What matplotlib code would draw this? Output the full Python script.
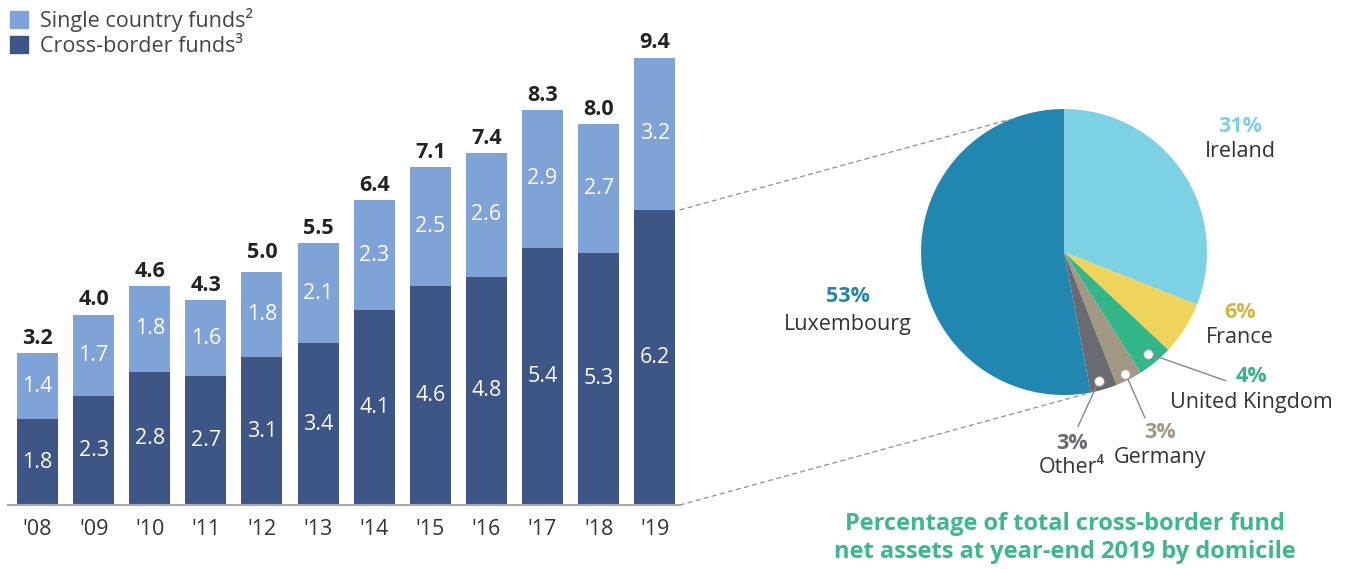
import numpy as np
import matplotlib
matplotlib.use("Agg")
import matplotlib.pyplot as plt
from matplotlib.patches import ConnectionPatch, Patch

plt.rcParams['font.family'] = ['Open Sans', 'DejaVu Sans']

# bar chart data (trillions)
years = ["'08", "'09", "'10", "'11", "'12", "'13", "'14", "'15", "'16", "'17", "'18", "'19"]
cross_border = [1.8, 2.3, 2.8, 2.7, 3.1, 3.4, 4.1, 4.6, 4.8, 5.4, 5.3, 6.2]
single_country = [1.4, 1.7, 1.8, 1.6, 1.8, 2.1, 2.3, 2.5, 2.6, 2.9, 2.7, 3.2]
totals = [3.2, 4.0, 4.6, 4.3, 5.0, 5.5, 6.4, 7.1, 7.4, 8.3, 8.0, 9.4]

# pie data (2019 domicile shares, clockwise from 12 o'clock)
domiciles = ["Ireland", "France", "United Kingdom", "Germany", "Other\u2074", "Luxembourg"]
shares = [31, 6, 4, 3, 3, 53]

light = '#7fa3d7'
dark = '#3d5686'
pie_colors = ['#7dd1e5', '#efd35b', '#33b68a', '#a39884', '#6a6b70', '#2287b0']
pct_colors = ['#7dd1e5', '#d4b53a', '#33b68a', '#a39884', '#6a6b70', '#2287b0']
text_col = '#333333'
fs = 15.5

fig = plt.figure(figsize=(13.48, 5.69), dpi=100)

# ---- stacked bars
ax = fig.add_axes([8/1348, 64/569, 672/1348, 476/569])
x = np.arange(len(years))
w = 0.73
ax.bar(x, cross_border, w, color=dark)
ax.bar(x, single_country, w, bottom=cross_border, color=light)
ax.set_xlim(-0.526, 11.45)
ax.set_ylim(0, 10)

for i in range(len(years)):
    ax.text(x[i], cross_border[i] / 2, f"{cross_border[i]:.1f}", ha='center', va='center',
            color='white', fontsize=fs)
    ax.text(x[i], cross_border[i] + single_country[i] / 2, f"{single_country[i]:.1f}",
            ha='center', va='center', color='white', fontsize=fs)
    ax.annotate(f"{totals[i]:.1f}", (x[i], totals[i]), xytext=(0, 3), textcoords='offset points',
                ha='center', va='bottom', fontsize=fs, fontweight='bold', color='#222222')

for s in ['top', 'right', 'left']:
    ax.spines[s].set_visible(False)
ax.spines['bottom'].set_color('#aaaaaa')
ax.spines['bottom'].set_linewidth(1.5)
ax.set_yticks([])
ax.set_xticks(x)
ax.set_xticklabels(years, fontsize=fs, color=text_col)
ax.tick_params(axis='x', length=0, pad=10)

handles = [Patch(color=light), Patch(color=dark)]
fig.legend(handles, ["Single country funds\u00b2", "Cross-border funds\u00b3"],
           loc='upper left', bbox_to_anchor=(-0.007, 1.02), frameon=False, fontsize=fs,
           handlelength=0.85, handleheight=0.85, handletextpad=0.55, labelspacing=0.2,
           labelcolor='#444444')

# ---- pie
r_px = 143
cx, cy = 1064, 252
ax2 = fig.add_axes([(cx - r_px)/1348, (569 - cy - r_px)/569, 2*r_px/1348, 2*r_px/569])
ax2.pie(shares, colors=pie_colors, startangle=90, counterclock=False,
        wedgeprops=dict(linewidth=0))
ax2.set_xlim(-1, 1)
ax2.set_ylim(-1, 1)

lab_pos = {
    "Ireland": (1.23, 0.88, 0.70),
    "France": (1.23, -0.42, -0.60),
    "United Kingdom": (1.31, -0.87, -1.055),
    "Germany": (0.67, -1.26, -1.44),
    "Other\u2074": (0.056, -1.34, -1.51),
    "Luxembourg": (-1.51, -0.31, -0.51),
}
for name, sh, pc in zip(domiciles, shares, pct_colors):
    lx, py, ny = lab_pos[name]
    ax2.text(lx, py, f"{sh}%", ha='center', va='center', color=pc, fontsize=fs,
             fontweight='bold', clip_on=False)
    ax2.text(lx, ny, name, ha='center', va='center', color=text_col, fontsize=fs, clip_on=False)

# leader lines with white dots
leaders = [((0.59, -0.71), (1.13, -0.90)),
           ((0.43, -0.85), (0.566, -1.16)),
           ((0.245, -0.90), (0.098, -1.22))]
for (dx0, dy0), (dx1, dy1) in leaders:
    ax2.plot([dx0, dx1], [dy0, dy1], color='#888888', lw=1, clip_on=False)
    ax2.plot(dx0, dy0, 'o', ms=7, mfc='white', mec='#999999', mew=0.6, clip_on=False)

# dashed connectors from 2019 cross-border bar to pie
a_top = np.deg2rad(111.7)
a_bot = np.deg2rad(90 - 0.47 * 360)
con1 = ConnectionPatch(xyA=(11.45, cross_border[-1]), coordsA=ax.transData,
                       xyB=(np.cos(a_top), np.sin(a_top)), coordsB=ax2.transData,
                       color='#999999', lw=1, linestyle=(0, (3, 3)))
con2 = ConnectionPatch(xyA=(11.45, 0), coordsA=ax.transData,
                       xyB=(np.cos(a_bot), np.sin(a_bot)), coordsB=ax2.transData,
                       color='#999999', lw=1, linestyle=(0, (3, 3)))
fig.add_artist(con1)
fig.add_artist(con2)

fig.text(1065/1348, 1 - 538/569, "Percentage of total cross-border fund\nnet assets at year-end 2019 by domicile",
         ha='center', va='center', fontsize=17, fontweight='bold', color='#3bb98a', linespacing=1.25)

fig.savefig('out.png', dpi=100)
